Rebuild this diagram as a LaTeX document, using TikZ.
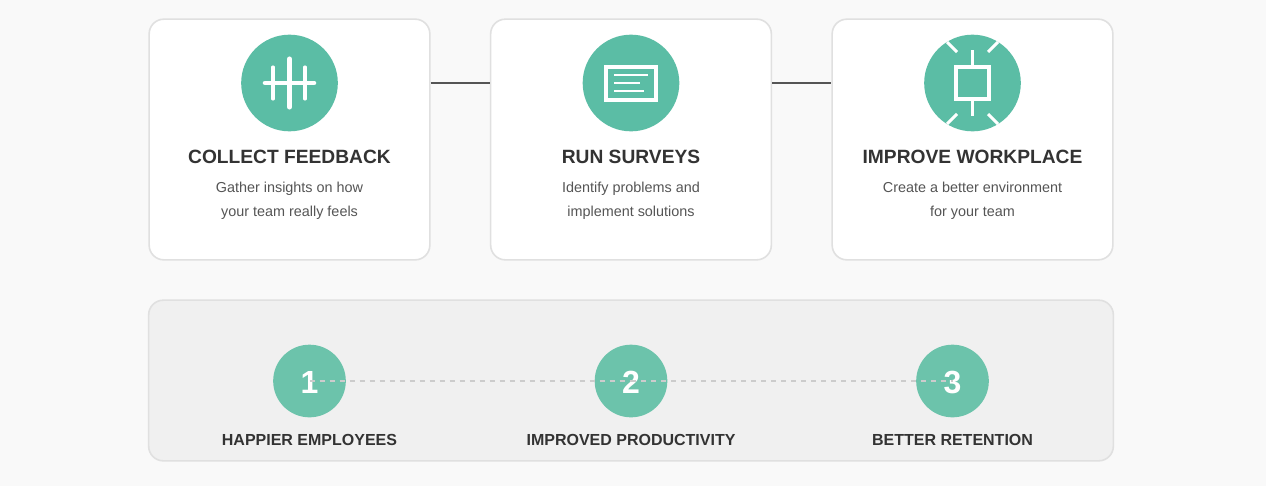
\documentclass[tikz,border=0pt]{standalone}
\usepackage{fontspec}
\setmainfont{Liberation Sans}
\definecolor{pagegray}{HTML}{F9F9F9}
\definecolor{cardline}{HTML}{E0E0E0}
\definecolor{panelgray}{HTML}{F0F0F0}
\definecolor{iconteal}{HTML}{5BBDA5}
\definecolor{numteal}{HTML}{6CC3AB}
\definecolor{darktext}{HTML}{333333}
\definecolor{softtext}{HTML}{555555}
\definecolor{dashgray}{HTML}{CCCCCC}
\tikzset{
    cardbox/.style={draw=cardline,line width=1.2pt,fill=white,rounded corners=11pt,minimum width=210.5pt,minimum height=180.5pt,inner sep=0pt},
    panelbox/.style={draw=cardline,line width=1.2pt,fill=panelgray,rounded corners=11pt,minimum width=723.5pt,minimum height=120.5pt,inner sep=0pt},
    iconcircle/.style={circle,fill=iconteal,minimum size=72.5pt,inner sep=0pt},
    numcircle/.style={circle,fill=numteal,minimum size=54.5pt,inner sep=0pt},
    numtext/.style={text=white,font=\fontsize{24}{26}\selectfont\bfseries,inner sep=0pt},
    cardtitle/.style={text=darktext,font=\fontsize{14.4}{16}\selectfont\bfseries,inner sep=0pt},
    cardtext/.style={text=softtext,font=\fontsize{10.8}{18}\selectfont,align=center,inner sep=0pt},
    steplabel/.style={text=darktext,font=\fontsize{12}{14}\selectfont\bfseries,inner sep=0pt},
    iconline/.style={draw=white,line width=2.3pt}
}
\begin{document}
\begin{tikzpicture}[x=0.75pt,y=-0.75pt]
        \useasboundingbox[fill=pagegray] (0,0) rectangle (1266,486);

        % the three cards
        \draw (289.5,139.5) node[cardbox] (card1) {};
        \draw (631,139.5) node[cardbox] (card2) {};
        \draw (972.5,139.5) node[cardbox] (card3) {};

        % links between the cards
        \draw[softtext,line width=1.9pt] (card1.east |- 0,83) -- (card2.west |- 0,83);
        \draw[softtext,line width=1.9pt] (card2.east |- 0,83) -- (card3.west |- 0,83);

        % icon circles
        \draw (289.5,83) node[iconcircle] (icon1) {};
        \draw (631,83) node[iconcircle] (icon2) {};
        \draw (972.5,83) node[iconcircle] (icon3) {};

        % first icon
        \draw[iconline,line width=3.4pt,line cap=round] (265,83) -- (314,83);
        \draw[iconline,line width=3.8pt,line cap=round] (289.5,59) -- (289.5,107);
        \draw[iconline,line cap=round] (273,67) -- (273,99);
        \draw[iconline,line cap=round] (305,67) -- (305,99);

        % second icon
        \draw[iconline] (606,67) rectangle (656,100);
        \draw[iconline,line width=2pt] (614,75) -- (648,75);
        \draw[iconline,line width=2pt] (614,83) -- (640,83);
        \draw[iconline,line width=2pt] (614,91) -- (644,91);

        % third icon
        \draw[iconline] (956,67) rectangle (989,99);
        \draw[iconline] (972.5,50) -- (972.5,67);
        \draw[iconline] (972.5,99) -- (972.5,116);
        \draw[iconline] (947,42) -- (957,52);
        \draw[iconline] (998,42) -- (988,52);
        \draw[iconline] (947,124) -- (957,114);
        \draw[iconline] (998,124) -- (988,114);

        % card texts
        \draw (289.5,157) node[cardtitle] (title1) {COLLECT FEEDBACK};
        \draw (631,157) node[cardtitle] (title2) {RUN SURVEYS};
        \draw (972.5,157) node[cardtitle] (title3) {IMPROVE WORKPLACE};
        \draw (289.5,201) node[cardtext] (text1) {Gather insights on how\\your team really feels};
        \draw (631,201) node[cardtext] (text2) {Identify problems and\\implement solutions};
        \draw (972.5,201) node[cardtext] (text3) {Create a better environment\\for your team};

        % lower panel
        \draw (631,380.5) node[panelbox] (panel) {};
        \draw (309.5,381) node[numcircle] (num1) {};
        \draw (631,381) node[numcircle] (num2) {};
        \draw (952.5,381) node[numcircle] (num3) {};
        \draw (309.5,382) node[numtext] (digit1) {1};
        \draw (631,382) node[numtext] (digit2) {2};
        \draw (952.5,382) node[numtext] (digit3) {3};

        % dotted link on top of the numbers
        \draw[dashgray,line width=1.1pt,dash pattern=on 3.75pt off 3.75pt] (num1.center) -- (num2.center);
        \draw[dashgray,line width=1.1pt,dash pattern=on 3.75pt off 3.75pt] (num2.center) -- (num3.center);

        \draw (309.5,439.5) node[steplabel] (label1) {HAPPIER EMPLOYEES};
        \draw (631,439.5) node[steplabel] (label2) {IMPROVED PRODUCTIVITY};
        \draw (952.5,439.5) node[steplabel] (label3) {BETTER RETENTION};
\end{tikzpicture}
\end{document}
